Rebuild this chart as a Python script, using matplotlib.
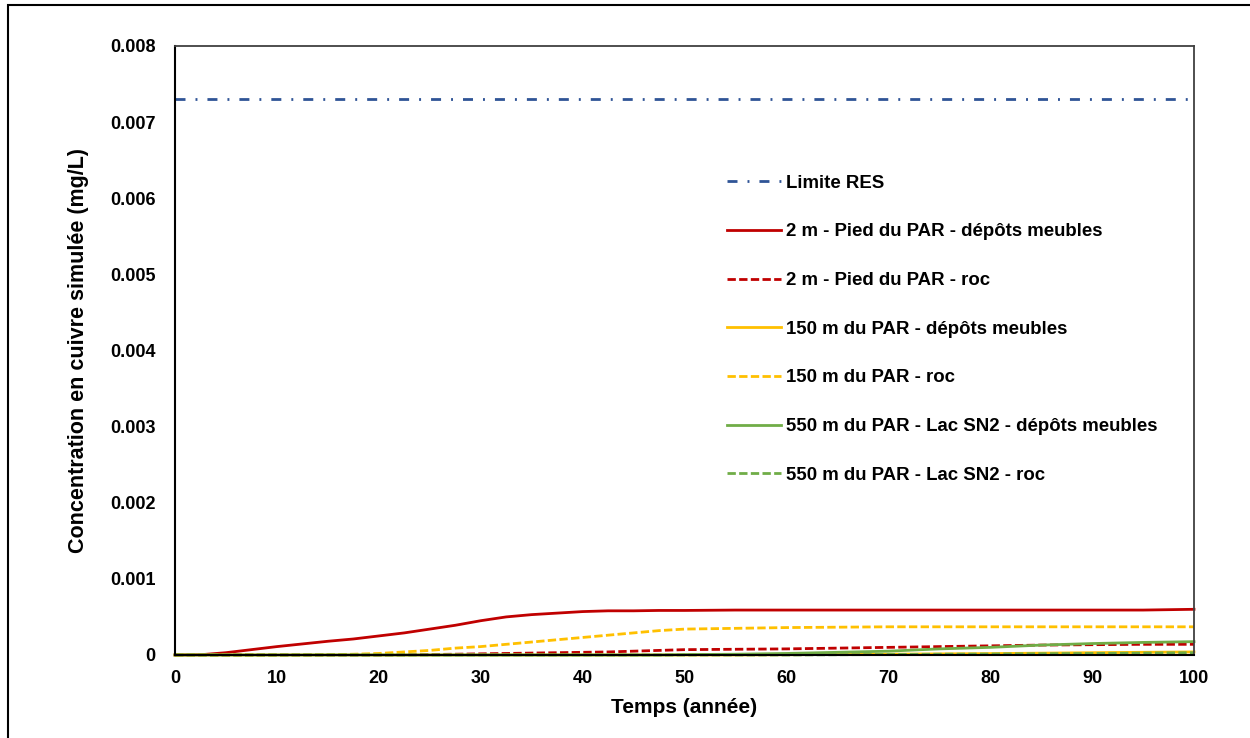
import matplotlib
matplotlib.use("Agg")
import matplotlib.pyplot as plt
from matplotlib.patches import Rectangle
from matplotlib.ticker import FuncFormatter

plt.rcParams['font.family'] = ['Liberation Sans', 'DejaVu Sans']
plt.rcParams['font.weight'] = 'bold'

years = [0, 2.5, 5, 7.5, 10, 12.5, 15, 17.5, 20, 22.5, 25, 27.5, 30, 32.5, 35, 37.5, 40, 42.5, 45, 47.5,
         50, 55, 60, 65, 70, 75, 80, 85, 90, 95, 100]

limite_res = 0.0073
pied_depots = [0, 0.000003, 0.00003, 0.00007, 0.00011, 0.000145, 0.00018, 0.00021, 0.00025, 0.00029,
               0.00034, 0.00039, 0.00045, 0.0005, 0.00053, 0.00055, 0.00057, 0.00058, 0.00058, 0.000585,
               0.000585, 0.00059, 0.00059, 0.00059, 0.00059, 0.00059, 0.00059, 0.00059, 0.00059, 0.00059, 0.0006]
pied_roc = [0, 0, 0, 0, 0, 0, 0, 0, 0, 0.000003,
            0.000006, 0.00001, 0.000015, 0.00002, 0.000025, 0.00003, 0.000035, 0.00004, 0.00005, 0.00006,
            0.00007, 0.000075, 0.00008, 0.00009, 0.0001, 0.00011, 0.00012, 0.00013, 0.000135, 0.00014, 0.00014]
m150_depots = [0, 0, 0, 0, 0, 0, 0, 0, 0, 0,
               0, 0, 0, 0, 0, 0, 0, 0, 0, 0,
               0, 0, 0.000003, 0.000006, 0.00001, 0.000014, 0.000018, 0.000024, 0.00003, 0.000035, 0.00004]
m150_roc = [0, 0, 0, 0, 0, 0, 0.000003, 0.00001, 0.00002, 0.00004,
            0.00006, 0.00009, 0.00011, 0.00014, 0.00017, 0.0002, 0.00023, 0.00026, 0.00029, 0.00032,
            0.00034, 0.00035, 0.00036, 0.000365, 0.00037, 0.00037, 0.00037, 0.00037, 0.00037, 0.00037, 0.00037]
m550_depots = [0, 0, 0, 0, 0, 0, 0, 0, 0, 0,
               0, 0, 0, 0, 0, 0, 0, 0, 0, 0,
               0.000005, 0.00001, 0.00002, 0.000035, 0.00005, 0.00008, 0.0001, 0.00013, 0.00015, 0.000165, 0.000175]
m550_roc = [0, 0, 0, 0, 0, 0, 0, 0, 0, 0,
            0, 0, 0, 0, 0, 0, 0, 0, 0, 0,
            0, 0, 0, 0.000003, 0.000006, 0.00001, 0.000013, 0.000017, 0.00002, 0.000025, 0.00003]

labels = ["Limite RES",
          "2 m - Pied du PAR - dépôts meubles",
          "2 m - Pied du PAR - roc",
          "150 m du PAR - dépôts meubles",
          "150 m du PAR - roc",
          "550 m du PAR - Lac SN2 - dépôts meubles",
          "550 m du PAR - Lac SN2 - roc"]

red = '#C00000'
yellow = '#FFC000'
green = '#70AD47'
blue = '#2F5496'
dash = (3.0, 1.2)

fig = plt.figure(figsize=(12.5, 7.38), dpi=100)
ax = fig.add_axes([0.14, 0.1125, 0.8152, 0.8252])

ax.plot([0, 100], [limite_res, limite_res], color=blue, lw=2, dashes=(3.6, 3.6, 0.7, 3.6), label=labels[0], clip_on=False)
ax.plot(years, pied_depots, color=red, lw=2, label=labels[1], clip_on=False)
ax.plot(years, pied_roc, color=red, lw=2, dashes=dash, label=labels[2], clip_on=False)
ax.plot(years, m150_depots, color=yellow, lw=2, label=labels[3], clip_on=False)
ax.plot(years, m150_roc, color=yellow, lw=2, dashes=dash, label=labels[4], clip_on=False)
ax.plot(years, m550_depots, color=green, lw=2, label=labels[5], clip_on=False)
ax.plot(years, m550_roc, color=green, lw=2, dashes=dash, label=labels[6], clip_on=False)

ax.set_xlim(0, 100)
ax.set_ylim(0, 0.008)
ax.set_xticks(range(0, 101, 10))
ax.set_yticks([i * 0.001 for i in range(9)])
ax.yaxis.set_major_formatter(FuncFormatter(lambda v, p: "0" if abs(v) < 1e-12 else f"{v:.3f}"))
ax.tick_params(axis='both', length=0, labelsize=13)
ax.tick_params(axis='y', pad=14)
ax.tick_params(axis='x', pad=11)
for lab in ax.get_xticklabels() + ax.get_yticklabels():
    lab.set_fontweight('bold')

for s in ['top', 'right']:
    ax.spines[s].set_color('#404040')
    ax.spines[s].set_linewidth(1.3)
for s in ['left', 'bottom']:
    ax.spines[s].set_color('black')
    ax.spines[s].set_linewidth(1.5)

ax.set_xlabel("Temps (année)", fontsize=15, fontweight='bold', labelpad=8)
ax.set_ylabel("Concentration en cuivre simulée (mg/L)", fontsize=15.5, fontweight='bold', labelpad=15)

leg = ax.legend(loc='upper left', bbox_to_anchor=(0.525, 0.816), frameon=False,
                fontsize=13.4, handlelength=2.9, handletextpad=0.27, labelspacing=1.70)
for t in leg.get_texts():
    t.set_fontweight('bold')

fig.patches.append(Rectangle((8 / 1250, -0.1), 1.2, (738 - 5) / 738 + 0.1, transform=fig.transFigure,
                             fill=False, edgecolor='black', lw=1.5, zorder=10))

fig.savefig("out.png", dpi=100)
